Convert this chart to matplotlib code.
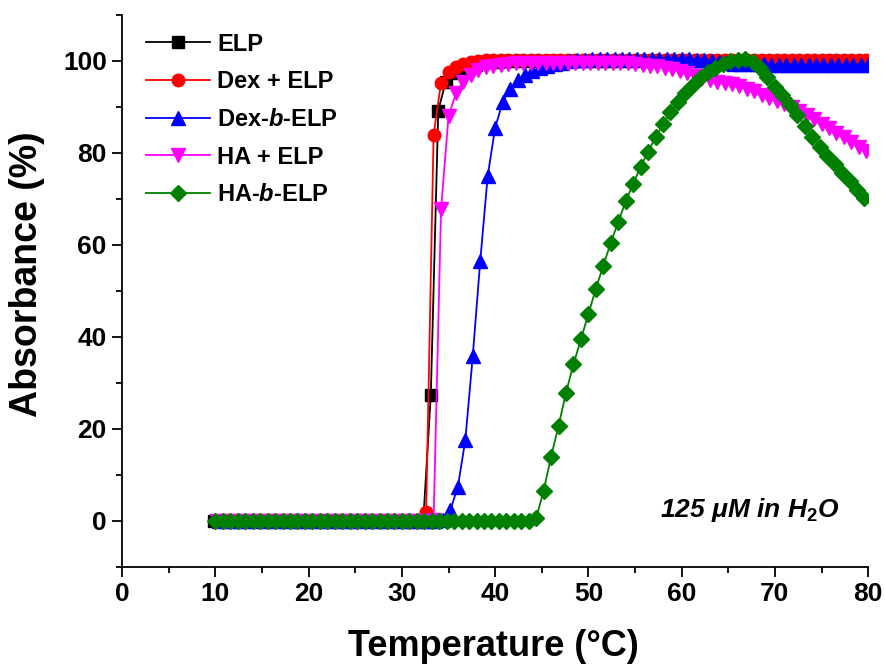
import numpy as np
import matplotlib
matplotlib.use("Agg")
import matplotlib.pyplot as plt
from matplotlib.ticker import MultipleLocator

plt.rcParams['font.family'] = ['Liberation Sans', 'DejaVu Sans']
plt.rcParams['font.weight'] = 'bold'
plt.rcParams['mathtext.fontset'] = 'custom'
plt.rcParams['mathtext.rm'] = 'Liberation Sans:bold'
plt.rcParams['mathtext.it'] = 'Liberation Sans:italic:bold'
plt.rcParams['mathtext.bf'] = 'Liberation Sans:bold'

# temperature sampling (deg C): first reading and step for each run
temp_step = 0.8
n_points = 88
elp_t0 = 9.9
dex_elp_t0 = 10.2
dex_b_elp_t0 = 10.4
ha_elp_t0 = 10.2
ha_b_elp_t0 = 10.0

# absorbance (%)
elp = [0.0, 0.0, 0.0, 0.0, 0.0, 0.0, 0.0, 0.0, 0.0, 0.0,
       0.0, 0.0, 0.0, 0.0, 0.0, 0.0, 0.0, 0.0, 0.0, 0.0,
       0.0, 0.0, 0.0, 0.0, 0.0, 0.0, 0.0, 0.0, 0.3, 27.4,
       89.2, 95.5, 97.3, 98.2, 98.8, 99.2, 99.5, 99.7, 99.8, 99.9,
       99.9, 100.0, 100.0, 100.0, 100.0, 100.0, 100.0, 100.0, 100.0, 100.0,
       100.0, 100.0, 100.0, 100.0, 100.0, 100.0, 100.0, 100.0, 100.0, 100.0,
       100.0, 100.0, 100.0, 100.0, 100.0, 100.0, 100.0, 100.0, 100.0, 100.0,
       100.0, 100.0, 100.0, 100.0, 100.0, 100.0, 100.0, 100.0, 100.0, 100.0,
       100.0, 100.0, 100.0, 100.0, 100.0, 100.0, 100.0, 100.0]

dex_elp = [0.0, 0.0, 0.0, 0.0, 0.0, 0.0, 0.0, 0.0, 0.0, 0.0,
           0.0, 0.0, 0.0, 0.0, 0.0, 0.0, 0.0, 0.0, 0.0, 0.0,
           0.0, 0.0, 0.0, 0.0, 0.0, 0.0, 0.0, 0.0, 2.0, 84.0,
           95.3, 97.7, 98.7, 99.3, 99.7, 100.0, 100.1, 100.2, 100.3, 100.3,
           100.3, 100.3, 100.3, 100.3, 100.3, 100.3, 100.3, 100.3, 100.3, 100.3,
           100.3, 100.3, 100.3, 100.3, 100.3, 100.3, 100.3, 100.3, 100.3, 100.3,
           100.3, 100.3, 100.3, 100.3, 100.3, 100.3, 100.3, 100.3, 100.3, 100.3,
           100.3, 100.3, 100.3, 100.3, 100.3, 100.3, 100.3, 100.3, 100.3, 100.3,
           100.3, 100.3, 100.3, 100.3, 100.3, 100.3, 100.3, 100.3]

dex_b_elp = [0.0, 0.0, 0.0, 0.0, 0.0, 0.0, 0.0, 0.0, 0.0, 0.0,
             0.0, 0.0, 0.0, 0.0, 0.0, 0.0, 0.0, 0.0, 0.0, 0.0,
             0.0, 0.0, 0.0, 0.0, 0.0, 0.0, 0.0, 0.0, 0.0, 0.0,
             0.3, 2.4, 7.4, 17.6, 35.9, 56.5, 75.0, 85.5, 91.0, 94.0,
             95.8, 97.0, 97.8, 98.4, 98.9, 99.3, 99.6, 99.9, 100.1, 100.3,
             100.4, 100.5, 100.5, 100.5, 100.5, 100.5, 100.5, 100.5, 100.5, 100.5,
             100.5, 100.5, 100.5, 100.4, 100.3, 100.1, 99.9, 99.7, 99.5, 99.4,
             99.3, 99.3, 99.3, 99.3, 99.2, 99.2, 99.2, 99.2, 99.2, 99.2,
             99.2, 99.2, 99.2, 99.2, 99.2, 99.2, 99.2, 99.2]

ha_elp = [0.0, 0.0, 0.0, 0.0, 0.0, 0.0, 0.0, 0.0, 0.0, 0.0,
          0.0, 0.0, 0.0, 0.0, 0.0, 0.0, 0.0, 0.0, 0.0, 0.0,
          0.0, 0.0, 0.0, 0.0, 0.0, 0.0, 0.0, 0.0, 0.0, 0.3,
          67.8, 88.0, 93.0, 95.5, 97.0, 98.0, 98.6, 99.0, 99.2, 99.4,
          99.5, 99.6, 99.6, 99.6, 99.6, 99.6, 99.6, 99.6, 99.6, 99.6,
          99.6, 99.6, 99.6, 99.6, 99.6, 99.6, 99.4, 99.2, 99.0, 98.8,
          98.5, 98.2, 97.8, 97.3, 96.8, 96.3, 95.9, 95.5, 95.2, 94.9,
          94.5, 94.0, 93.4, 92.7, 92.0, 91.3, 90.6, 89.9, 89.2, 88.3,
          87.4, 86.4, 85.4, 84.4, 83.4, 82.4, 81.4, 80.4]

ha_b_elp = [0.0, 0.0, 0.0, 0.0, 0.0, 0.0, 0.0, 0.0, 0.0, 0.0,
            0.0, 0.0, 0.0, 0.0, 0.0, 0.0, 0.0, 0.0, 0.0, 0.0,
            0.0, 0.0, 0.0, 0.0, 0.0, 0.0, 0.0, 0.0, 0.0, 0.0,
            0.0, 0.0, 0.0, 0.0, 0.0, 0.0, 0.0, 0.0, 0.0, 0.0,
            0.0, 0.0, 0.0, 0.6, 6.6, 14.0, 20.7, 27.9, 34.1, 39.5,
            45.0, 50.5, 55.5, 60.5, 65.0, 69.5, 73.3, 77.0, 80.3, 83.4,
            86.2, 88.8, 91.0, 93.0, 94.8, 96.3, 97.5, 98.5, 99.3, 99.9,
            100.3, 100.4, 99.8, 98.4, 96.5, 94.4, 92.5, 90.4, 88.2, 85.8,
            83.5, 81.3, 79.4, 77.5, 75.6, 73.8, 72.0, 70.2]

series = [
    ("ELP", elp_t0, elp, "black", "s", 8.0),
    ("Dex + ELP", dex_elp_t0, dex_elp, "#ff0000", "o", 9.0),
    ("Dex-$\\mathit{b}$-ELP", dex_b_elp_t0, dex_b_elp, "#0000ff", "^", 9.5),
    ("HA + ELP", ha_elp_t0, ha_elp, "#ff00ff", "v", 9.5),
    ("HA-$\\mathit{b}$-ELP", ha_b_elp_t0, ha_b_elp, "#008000", "D", 8.0),
]

fig = plt.figure(figsize=(8.85, 6.67), dpi=100)
ax = fig.add_axes([0.138, 0.15, 0.843, 0.8276])

for label, t0, y, col, mk, ms in series:
    t = t0 + temp_step * np.arange(n_points)
    ax.plot(t, y, color=col, marker=mk, markersize=ms, linewidth=1.3, label=label)

ax.set_xlim(0, 80)
ax.set_ylim(-10, 110)
ax.xaxis.set_major_locator(MultipleLocator(10))
ax.xaxis.set_minor_locator(MultipleLocator(5))
ax.yaxis.set_minor_locator(MultipleLocator(10))
ax.set_yticks([0, 20, 40, 60, 80, 100])

for s in ["top", "right"]:
    ax.spines[s].set_visible(False)
for s in ["left", "bottom"]:
    ax.spines[s].set_linewidth(1.3)

ax.tick_params(which="major", direction="out", length=7, width=1.3, labelsize=19, pad=4)
ax.tick_params(which="minor", direction="out", length=4, width=1.3)

ax.set_xlabel("Temperature (°C)", fontsize=26, fontweight="bold")
ax.set_ylabel("Absorbance (%)", fontsize=27, fontweight="bold")
ax.xaxis.set_label_coords(0.497, -0.112)
ax.yaxis.set_label_coords(-0.104, 0.53)

ax.text(0.962, 0.103, "125 μM in H$_{\\mathit{2}}$O", transform=ax.transAxes,
        ha="right", va="center", fontsize=19, fontweight="bold", fontstyle="italic")

ax.legend(loc="upper left", bbox_to_anchor=(0.02, 0.985), frameon=False, fontsize=17,
          handlelength=2.7, handletextpad=0.3, labelspacing=0.62, borderaxespad=0)

fig.savefig("out.png", dpi=100)
